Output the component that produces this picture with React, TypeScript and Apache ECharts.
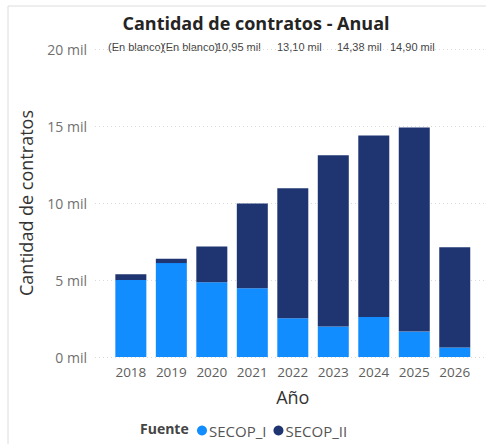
import React, { useEffect, useRef } from "react";
import * as echarts from "echarts";

const years = ["2018", "2019", "2020", "2021", "2022", "2023", "2024", "2025", "2026"];
const secopI = [5000, 6100, 4850, 4470, 2520, 1980, 2600, 1650, 620];
const secopII = [380, 280, 2330, 5500, 8430, 11120, 11780, 13250, 6500];
const topLabels = ["(En blanco)", "(En blanco)", "10,95 mil", "13,10 mil", "14,38 mil", "14,90 mil"];
const topLabelX = [108, 162, 216, 277, 337, 390];
const yTicks = [0, 5000, 10000, 15000, 20000];

const FONT = "'Open Sans', 'Noto Sans', sans-serif";

export default function App() {
  const ref = useRef<HTMLDivElement>(null);
  useEffect(() => {
    if (!ref.current) return;
    const chart = echarts.init(ref.current, undefined, { renderer: "svg" });
    const option: any = {
      animation: false,
      backgroundColor: "#ffffff",
      textStyle: { fontFamily: FONT },
      title: {
        text: "Cantidad de contratos - Anual",
        left: 251,
        textAlign: "center",
        top: 9,
        textStyle: { fontSize: 18, fontWeight: "bold", color: "#252423", fontFamily: FONT },
      },
      legend: {
        left: 192,
        top: 418,
        icon: "circle",
        itemWidth: 10,
        itemHeight: 10,
        itemGap: 7,
        data: ["SECOP_I", "SECOP_II"],
        textStyle: { fontSize: 15, color: "#555", fontFamily: FONT, padding: [0, 0, 0, -3] },
      },
      grid: [
        { left: 95, right: 0, top: 49, bottom: 87 },
        { left: 110.6, right: 11, top: 49, bottom: 87 },
      ],
      xAxis: [
        { type: "value", gridIndex: 0, show: false, min: 0, max: 1 },
        {
          type: "category",
          gridIndex: 1,
          data: years,
          axisLine: { show: false },
          axisTick: { show: false },
          axisLabel: { interval: 0, fontSize: 13.5, color: "#605E5C", margin: 8, fontFamily: FONT },
          name: "Año",
          nameLocation: "middle",
          nameGap: 31,
          nameTextStyle: { fontSize: 18, color: "#333", fontFamily: FONT },
        },
      ],
      yAxis: [
        {
          type: "value",
          gridIndex: 0,
          min: 0,
          max: 20000,
          interval: 5000,
          axisLine: { show: false },
          axisTick: { show: false },
          axisLabel: {
            fontSize: 14,
            color: "#707070",
            margin: 8,
            fontFamily: FONT,
            formatter: (v: number) => (yTicks.includes(v) ? v / 1000 + " mil" : ""),
          },
          splitLine: { lineStyle: { color: "#dadada", type: [1, 3], width: 1 } },
          name: "Cantidad de contratos",
          nameLocation: "middle",
          nameGap: 60,
          nameTextStyle: { fontSize: 18, color: "#333", fontFamily: FONT },
        },
        { type: "value", gridIndex: 1, min: 0, max: 20000, show: false },
      ],
      series: [
        {
          name: "SECOP_I",
          type: "bar",
          xAxisIndex: 1,
          yAxisIndex: 1,
          stack: "t",
          barWidth: 31,
          data: secopI,
          itemStyle: { color: "#118DFF" },
        },
        {
          name: "SECOP_II",
          type: "bar",
          xAxisIndex: 1,
          yAxisIndex: 1,
          stack: "t",
          barWidth: 31,
          data: secopII,
          itemStyle: { color: "#1F3571" },
        },
      ],
      graphic: [
        {
          type: "rect",
          shape: { x: 8, y: 6, width: 600, height: 600 },
          style: { fill: "none", stroke: "#dcdcdc", lineWidth: 1 },
          silent: true,
        },
        ...topLabels.map((t, i) => ({
          type: "text",
          x: topLabelX[i],
          y: 47,
          style: {
            text: t,
            font: "11px 'Liberation Sans', Arial, sans-serif",
            fill: "#444",
            verticalAlign: "middle",
          },
        })),
        {
          type: "text",
          x: 140,
          y: 428,
          style: {
            text: "Fuente",
            font: "bold 14px " + FONT,
            fill: "#444",
            verticalAlign: "middle",
          },
        },
      ],
    };
    chart.setOption(option);
    return () => chart.dispose();
  }, []);
  return (
    <div
      ref={ref}
      style={{ position: "fixed", left: 0, top: 0, width: 486, height: 444 }}
    />
  );
}
